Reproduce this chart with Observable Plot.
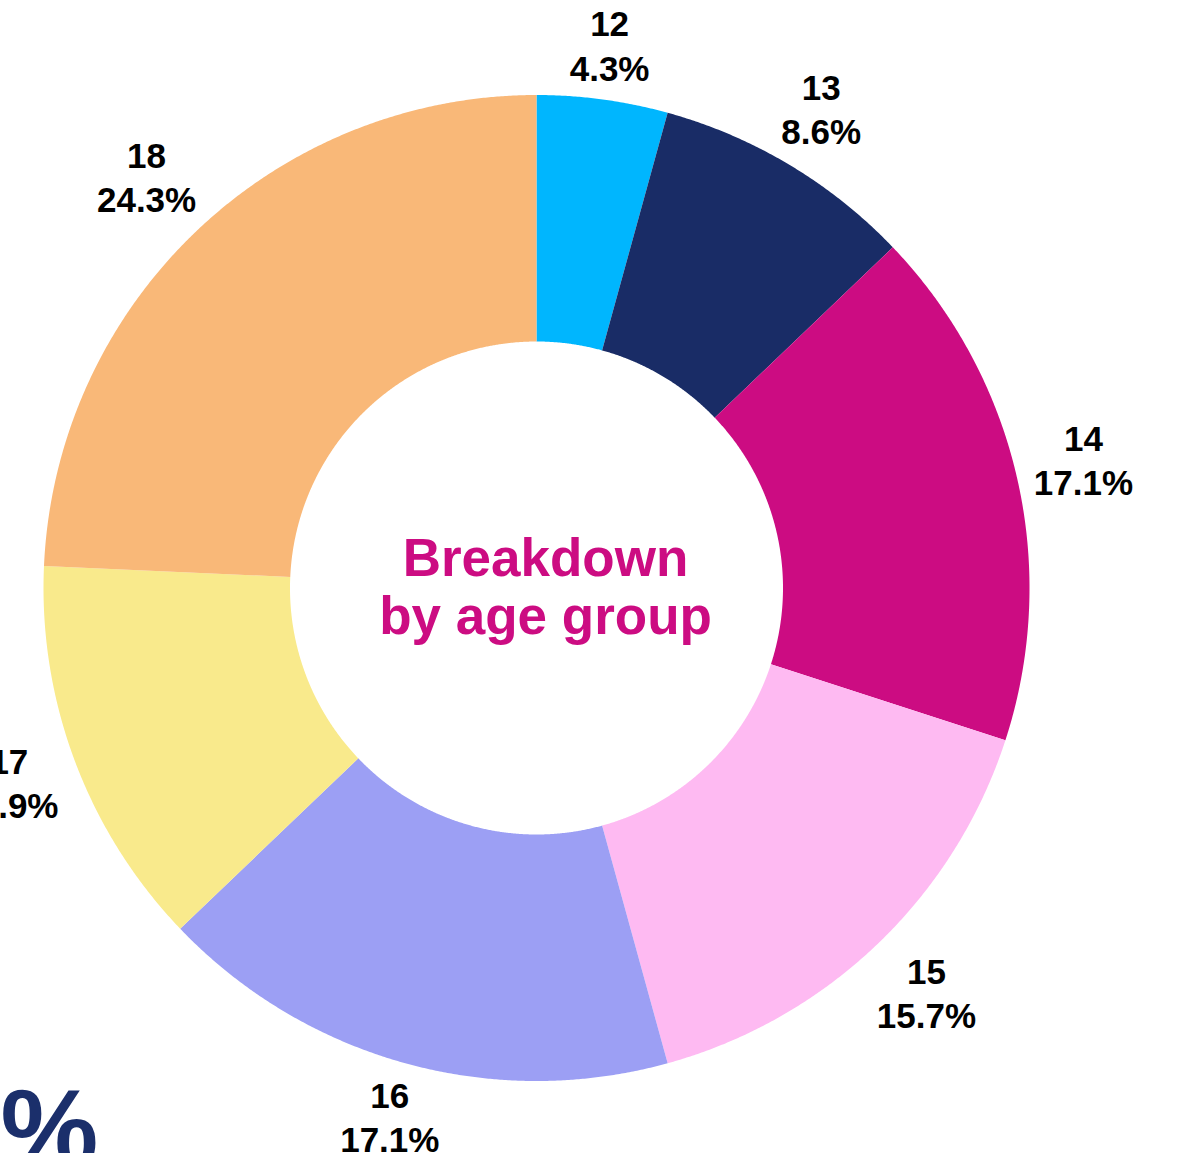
<!DOCTYPE html>
<html><head><meta charset="utf-8">
<script src="https://cdn.jsdelivr.net/npm/d3@7"></script>
<script src="https://cdn.jsdelivr.net/npm/@observablehq/plot@0.6"></script>
<style>html,body{margin:0;padding:0;background:#fff;overflow:hidden} svg{display:block}</style>
</head><body><div id="chart"></div>
<script>
// ---- data ----
const ages = ["12", "13", "14", "15", "16", "17", "18"];
const counts = [3, 6, 12, 11, 12, 9, 17];
const colors = ["#00b6fe", "#192c66", "#cc0c82", "#febaf2", "#9c9ff4", "#f9ea8c", "#f9b878"];
const centerTitle = "Breakdown\nby age group";
const cornerText = "%";

// ---- layout ----
const W = 1180, H = 1153;
const cx = 536, cy = 587.5, R = 493, r0 = 246.5;
const labelSize = 35, labelGap = 12, labelHalfH = 34.5;
const charW = {".": 0.278, "%": 0.889};
const textW = s => [...s].reduce((a, c) => a + (charW[c] ?? 0.556), 0) * labelSize;

const total = d3.sum(counts);
const arcs = d3.pie().sort(null).value(d => d)(counts);
const pt = (rad, a) => [rad * Math.sin(a), -rad * Math.cos(a)];

const slices = arcs.map((p, i) => {
  const n = Math.max(16, Math.ceil((p.endAngle - p.startAngle) / 0.004));
  const ring = [];
  for (let k = 0; k <= n; k++) ring.push(pt(R, p.startAngle + (p.endAngle - p.startAngle) * k / n));
  for (let k = n; k >= 0; k--) ring.push(pt(r0, p.startAngle + (p.endAngle - p.startAngle) * k / n));
  ring.push(ring[0]);
  return {type: "Feature", properties: {age: ages[i]}, geometry: {type: "Polygon", coordinates: [ring]}};
});

const labels = arcs.map((p, i) => {
  const a = (p.startAngle + p.endAngle) / 2;
  const pct = (counts[i] / total * 100).toFixed(1) + "%";
  const halfW = Math.max(textW(ages[i]), textW(pct)) / 2;
  const rl = R + labelGap + halfW * Math.abs(Math.sin(a)) + labelHalfH * Math.abs(Math.cos(a));
  const [x, y] = pt(rl, a);
  return {x, y, text: ages[i] + "\n" + pct};
});

const chart = Plot.plot({
  width: W,
  height: H,
  margin: 0,
  style: {background: "#fff", fontFamily: "'Liberation Sans', Arial, sans-serif"},
  projection: {
    type: "identity",
    domain: {type: "MultiPoint", coordinates: [[-cx, -cy], [W - cx, H - cy]]}
  },
  color: {domain: ages, range: colors},
  marks: [
    Plot.geo(slices, {fill: d => d.properties.age, stroke: "none"}),
    Plot.text(labels, {
      x: "x", y: "y", text: "text",
      dy: -4,
      fontSize: labelSize, fontWeight: "bold", fill: "#000",
      lineHeight: 1.26, lineAnchor: "middle", textAnchor: "middle"
    }),
    Plot.text([centerTitle], {
      x: () => 0, y: () => 0, text: d => d,
      dx: 9, dy: -2,
      fontSize: 53, fontWeight: "bold", fill: colors[2],
      lineHeight: 1.1, lineAnchor: "middle", textAnchor: "middle"
    }),
    Plot.text([cornerText], {
      frameAnchor: "bottom-left", text: d => d,
      dx: 0, dy: 12,
      fontSize: 110, fontWeight: "bold", fill: "#1b2f6b",
      lineAnchor: "bottom", textAnchor: "start"
    })
  ]
});
document.getElementById("chart").appendChild(chart);
</script>
</body></html>
